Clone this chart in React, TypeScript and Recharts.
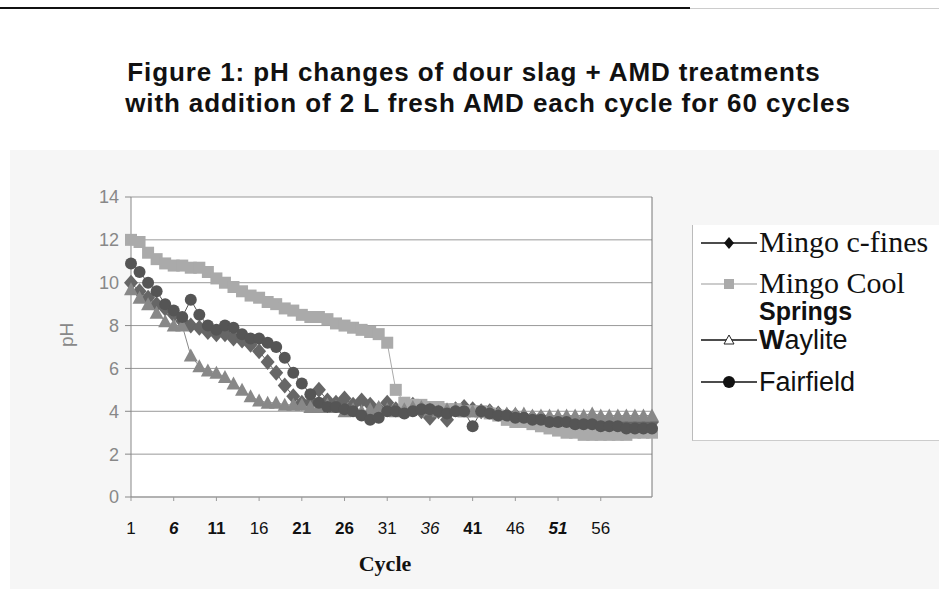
import { LineChart, Line, XAxis, YAxis, CartesianGrid, ReferenceLine } from 'recharts';

const cycles = [
  1, 2, 3, 4, 5, 6, 7, 8, 9, 10, 11, 12, 13, 14, 15, 16, 17, 18, 19, 20, 21,
  22, 23, 24, 25, 26, 27, 28, 29, 30, 31, 32, 33, 34, 35, 36, 37, 38, 39, 40, 41,
  42, 43, 44, 45, 46, 47, 48, 49, 50, 51, 52, 53, 54, 55, 56, 57, 58, 59, 60, 61, 62,
];

const mingoFines = [
  10.0, 9.6, 9.3, 9.0, 8.8, 8.5, 8.2, 8.0, 7.9, 7.7, 7.6, 7.6, 7.4, 7.3, 7.1, 6.8, 6.3, 5.8, 5.2, 4.7, 4.4,
  4.4, 5.0, 4.5, 4.4, 4.6, 4.3, 4.5, 4.3, 4.1, 4.4, 4.1, 4.2, 4.3, 4.0, 3.7, 4.0, 3.6, 4.1, 4.2, 4.1,
  4.0, 4.0, 3.9, 3.8, 3.8, 3.7, 3.7, 3.7, 3.6, 3.6, 3.6, 3.5, 3.5, 3.5, 3.5, 3.4, 3.4, 3.4, 3.4, 3.4, 3.5,
];

const mingoCool = [
  12.0, 11.9, 11.4, 11.1, 10.9, 10.8, 10.8, 10.7, 10.7, 10.5, 10.2, 10.0, 9.8, 9.6, 9.4, 9.3, 9.1, 9.0, 8.8, 8.7, 8.5,
  8.4, 8.4, 8.3, 8.1, 8.0, 7.9, 7.8, 7.7, 7.6, 7.2, 5.0, 4.4, 4.3, 4.3, 4.2, 4.2, 4.1, 4.1, 4.0, 4.0,
  4.0, 3.9, 3.8, 3.6, 3.5, 3.5, 3.4, 3.3, 3.2, 3.1, 3.0, 3.0, 2.9, 2.9, 2.9, 2.9, 2.9, 2.9, 3.0, 3.0, 3.0,
];

const waylite = [
  9.7, 9.3, 9.0, 8.6, 8.2, 8.0, 8.0, 6.6, 6.1, 5.9, 5.8, 5.6, 5.3, 5.0, 4.7, 4.5, 4.4, 4.4, 4.3, 4.3, 4.3,
  4.2, 4.2, 4.3, 4.2, 4.0, 4.1, 4.0, 4.1, 4.2, 4.1, 4.0, 4.1, 4.2, 4.2, 4.1, 4.0, 4.1, 4.1, 4.0, 4.0,
  4.0, 4.0, 3.9, 3.9, 3.9, 3.9, 3.8, 3.8, 3.8, 3.8, 3.8, 3.8, 3.8, 3.9, 3.8, 3.8, 3.8, 3.8, 3.8, 3.8, 3.8,
];

const fairfield = [
  10.9, 10.5, 10.0, 9.6, 9.0, 8.7, 8.4, 9.2, 8.5, 8.0, 7.8, 8.0, 7.9, 7.6, 7.4, 7.4, 7.2, 7.0, 6.5, 5.8, 5.3,
  4.8, 4.4, 4.2, 4.2, 4.1, 4.0, 3.8, 3.6, 3.7, 4.0, 4.0, 3.9, 4.0, 4.1, 4.1, 4.0, 3.9, 4.0, 4.0, 3.3,
  4.0, 3.9, 3.8, 3.8, 3.7, 3.7, 3.6, 3.6, 3.5, 3.5, 3.5, 3.4, 3.4, 3.4, 3.3, 3.3, 3.3, 3.2, 3.2, 3.2, 3.2,
];

const xTicks = [1, 6, 11, 16, 21, 26, 31, 36, 41, 46, 51, 56];
const yTicks = [0, 2, 4, 6, 8, 10, 12, 14];

const data = cycles.map((c, i) => ({
  cycle: c,
  fines: mingoFines[i],
  cool: mingoCool[i],
  waylite: waylite[i],
  fairfield: fairfield[i],
}));

// scanned look: some tick labels came out bold / italic
const tickLook: Record<number, { w: number; s: string }> = {
  6: { w: 700, s: 'italic' },
  11: { w: 700, s: 'normal' },
  21: { w: 700, s: 'normal' },
  26: { w: 700, s: 'normal' },
  36: { w: 400, s: 'italic' },
  41: { w: 700, s: 'normal' },
  51: { w: 700, s: 'italic' },
};

const SANS = 'Liberation Sans, Arial, sans-serif';
const SERIF = 'Liberation Serif, serif';

const marker = (shape: string, fill: string, r: number, stroke?: string) => (props: any) => {
  const { cx, cy, index } = props;
  if (cx == null || cy == null) return <g key={index} />;
  if (shape === 'diamond')
    return <path key={index} d={`M${cx},${cy - r - 1}L${cx + r},${cy}L${cx},${cy + r + 1}L${cx - r},${cy}Z`} fill={fill} />;
  if (shape === 'square')
    return <rect key={index} x={cx - r} y={cy - r} width={r * 2} height={r * 2} fill={fill} />;
  if (shape === 'triangle')
    return <path key={index} d={`M${cx},${cy - r - 1}L${cx + r + 1},${cy + r}L${cx - r - 1},${cy + r}Z`} fill={fill} stroke={stroke} />;
  return <circle key={index} cx={cx} cy={cy} r={r} fill={fill} />;
};

const XTick = (props: any) => {
  const { x, y, payload } = props;
  const look = tickLook[payload.value] || { w: 400, s: 'normal' };
  return (
    <text x={x} y={y} dy="0.71em" textAnchor="middle" fontSize={17} fill="#111"
      fontFamily={SANS} fontWeight={look.w} fontStyle={look.s}>
      {payload.value}
    </text>
  );
};

const legendRows = [
  { key: 'fines', top: 2, line: '#111', mk: marker('diamond', '#111', 5) },
  { key: 'cool', top: 43, line: '#bbb', mk: marker('square', '#aaa', 5) },
  { key: 'waylite', top: 99, line: '#111', mk: marker('triangle', '#fff', 4, '#222') },
  { key: 'fairfield', top: 141, line: '#111', mk: marker('circle', '#111', 6) },
];

function LegendBox() {
  return (
    <div style={{ position: 'absolute', left: 692, top: 225, width: 247, height: 215, borderLeft: '1px solid #bbb', borderBottom: '1px solid #ccc', background: '#fff' }}>
      {legendRows.map((row) => (
        <svg key={row.key} width={64} height={32} style={{ position: 'absolute', left: 4, top: row.top }}>
          <line x1={4} x2={60} y1={16} y2={16} stroke={row.line} strokeWidth={1.5} />
          {row.mk({ cx: 32, cy: 16, index: 0 })}
        </svg>
      ))}
      <div style={{ position: 'absolute', left: 66, top: 0, whiteSpace: 'nowrap', color: '#111' }}>
        <div style={{ position: 'absolute', top: 0, fontFamily: SERIF, fontSize: 30, lineHeight: '34px' }}>Mingo c-fines</div>
        <div style={{ position: 'absolute', top: 41, fontFamily: SERIF, fontSize: 30, lineHeight: '34px' }}>Mingo Cool</div>
        <div style={{ position: 'absolute', top: 71, fontFamily: SANS, fontWeight: 700, fontSize: 25, lineHeight: '30px' }}>Springs</div>
        <div style={{ position: 'absolute', top: 99, fontFamily: SANS, fontSize: 27, lineHeight: '32px' }}><b>W</b>aylite</div>
        <div style={{ position: 'absolute', top: 141, fontFamily: SANS, fontSize: 27, lineHeight: '32px' }}>Fairfield</div>
      </div>
    </div>
  );
}

const titleStyle = { position: 'absolute' as const, left: 0, textAlign: 'center' as const, fontFamily: SANS, fontWeight: 700, fontSize: 26, letterSpacing: 0.9, lineHeight: '31px', color: '#111', whiteSpace: 'nowrap' as const };

export default function App() {
  return (
    <div style={{ position: 'absolute', left: 0, top: 0, width: 939, height: 589, background: '#fff', overflow: 'hidden' }}>
      <div style={{ position: 'absolute', left: 0, top: 7, width: 690, height: 2, background: '#111' }} />
      <div style={{ position: 'absolute', left: 690, top: 8, width: 249, height: 1, background: '#ccc' }} />
      <div style={{ position: 'absolute', left: 10, top: 150, width: 929, height: 439, background: '#f6f6f6' }} />
      <div style={{ ...titleStyle, top: 57, width: 948 }}>Figure 1: pH changes of dour slag + AMD treatments</div>
      <div style={{ ...titleStyle, top: 88, width: 976 }}>with addition of 2 L fresh AMD each cycle for 60 cycles</div>
      <div style={{ position: 'absolute', left: 0, top: 150 }}>
        <LineChart width={700} height={400} data={data} margin={{ top: 47, right: 48, bottom: 13, left: 20 }}>
          <CartesianGrid vertical={false} stroke="#999" fill="#fff" />
          <XAxis dataKey="cycle" type="number" domain={[1, 62]} ticks={xTicks} interval={0}
            height={40} tickSize={4} tickMargin={21} tick={<XTick />} stroke="#999" />
          <YAxis domain={[0, 14]} ticks={yTicks} width={111} tickSize={6} tickMargin={6} stroke="#888"
            tick={{ fill: '#888', fontSize: 18, fontFamily: SANS }}
            label={{ value: 'pH', angle: -90, position: 'insideLeft', offset: 46, fill: '#888', fontSize: 19, fontFamily: SANS }} />
          <ReferenceLine x={62} stroke="#777" />
          <Line dataKey="fines" name="Mingo c-fines" stroke="#666" strokeWidth={1} isAnimationActive={false}
            dot={marker('diamond', '#666', 7)} />
          <Line dataKey="cool" name="Mingo Cool Springs" stroke="#aaa" strokeWidth={1} isAnimationActive={false}
            dot={marker('square', '#aaa', 6)} />
          <Line dataKey="waylite" name="Waylite" stroke="#888" strokeWidth={1} isAnimationActive={false}
            dot={marker('triangle', '#888', 6)} />
          <Line dataKey="fairfield" name="Fairfield" stroke="#555" strokeWidth={1} isAnimationActive={false}
            dot={marker('circle', '#555', 6)} />
        </LineChart>
      </div>
      <LegendBox />
      <div style={{ position: 'absolute', left: 335, top: 551, width: 100, textAlign: 'center', fontFamily: SERIF, fontWeight: 700, fontSize: 22, color: '#111' }}>
        Cycle
      </div>
    </div>
  );
}
